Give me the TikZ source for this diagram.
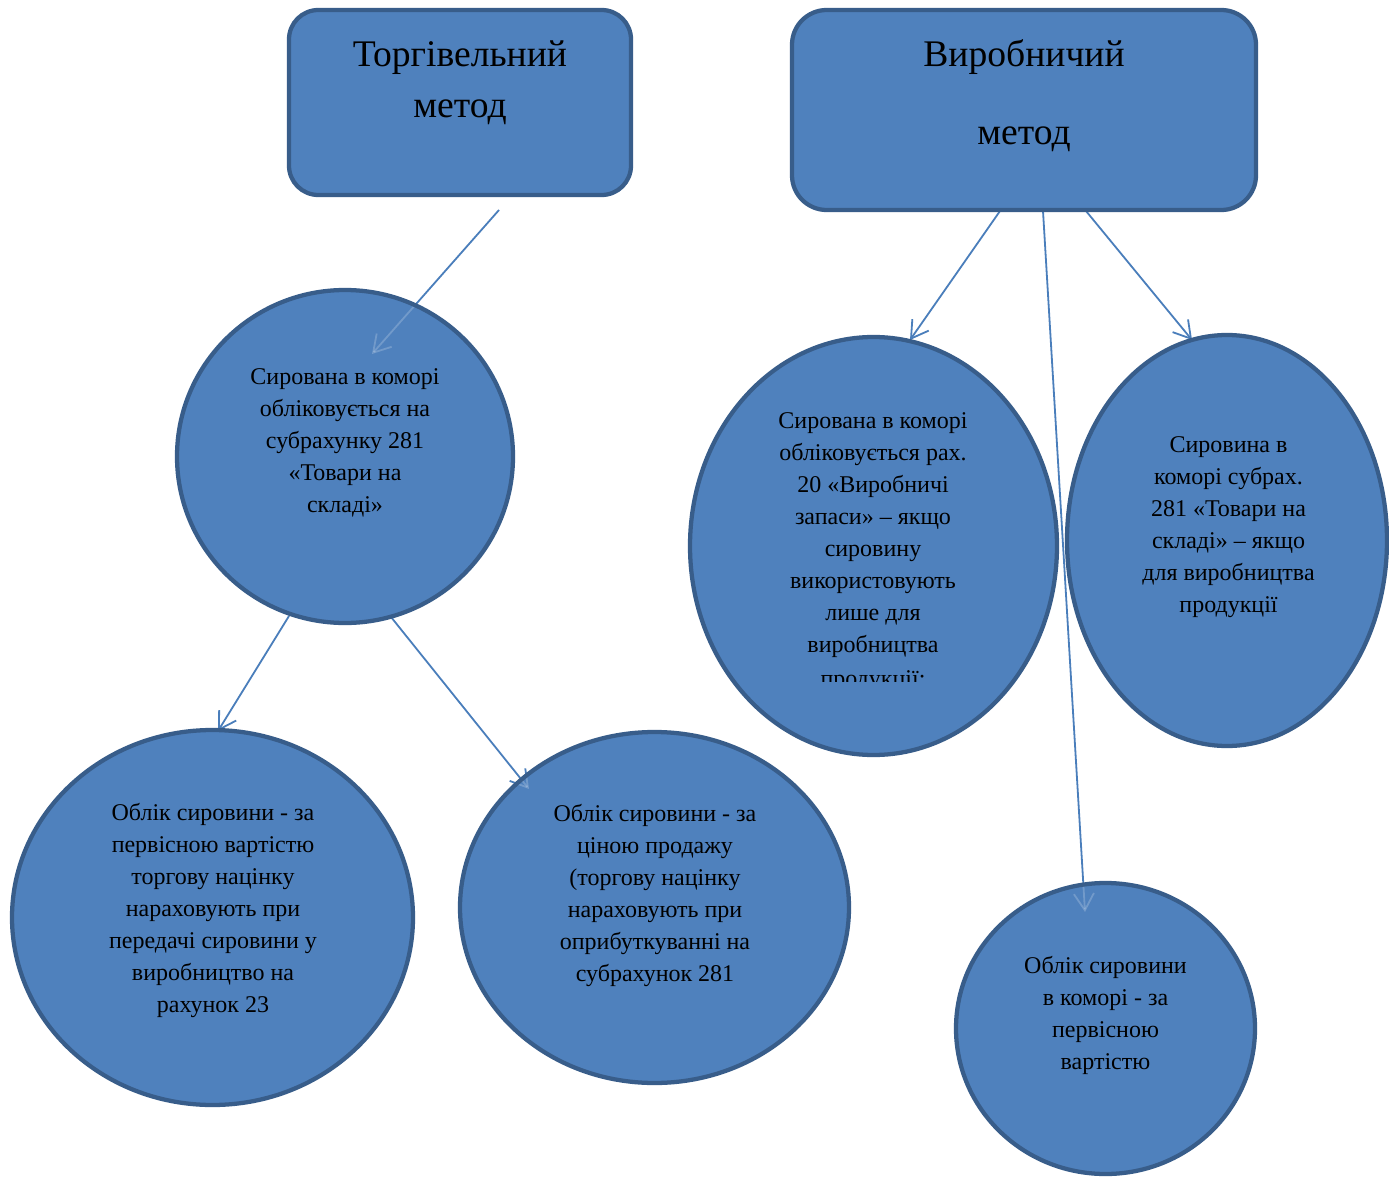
\documentclass[tikz,border=0pt]{standalone}
\usepackage{fontspec}
\setmainfont{Liberation Serif}
\usetikzlibrary{arrows.meta,shapes.geometric}
\pgfdeclarelayer{bg}
\pgfdeclarelayer{fg}
\pgfsetlayers{bg,main,fg}
\definecolor{fillblue}{HTML}{4F81BD}
\definecolor{edgeblue}{HTML}{385D8A}
\definecolor{linkblue}{HTML}{4A7EBB}
\newcommand\mylinks[1]{%
  \draw[#1] (s1) -- (h1);
  \draw[#1] (s2) -- (h2);
  \draw[#1] (s3) -- (h3);
  \draw[#1] (s4) -- (h4);
  \draw[#1] (s5) -- (h5);
  \draw[#1] (s6) -- (h6);
}
\begin{document}
\begin{tikzpicture}[x=0.75pt,y=-0.75pt,
  methodbox/.style={rectangle, fill=fillblue, draw=edgeblue, line width=3.2pt, inner sep=0pt},
  ellfill/.style={ellipse, fill=fillblue, inner sep=0pt, outer sep=0pt},
  ellborder/.style={draw=edgeblue, line width=3.2pt},
  link/.style={draw=linkblue, line width=1.35pt, -{Straight Barb[length=12.5pt,width=15pt]}},
  faintlink/.style={draw=white, draw opacity=0.2, line width=1.35pt, -{Straight Barb[length=12.5pt,width=15pt]}},
  ltxt/.style={font=\fontsize{18pt}{24pt}\selectfont, align=center, inner sep=0pt, text=black},
  btxtA/.style={font=\fontsize{28.2pt}{38.25pt}\selectfont, align=center, inner sep=0pt, text=black},
  btxtB/.style={font=\fontsize{28.2pt}{58.5pt}\selectfont, align=center, inner sep=0pt, text=black}
]
\useasboundingbox (0,0) rectangle (1389,1177);
\begin{pgfonlayer}{bg}
  \fill[white] (0,0) rectangle (1389,1177);
\end{pgfonlayer}

% method boxes
\node[methodbox, minimum width=256.5pt, minimum height=138.75pt, rounded corners=22pt] (b1) at (460,102.5) {};
\node[methodbox, minimum width=348pt, minimum height=150pt, rounded corners=26pt] (b2) at (1024,110) {};

% ellipse fills
\node[ellfill, minimum width=252pt, minimum height=249.75pt] (e1) at (345,456.5) {};
\node[ellfill, minimum width=300.75pt, minimum height=281.25pt] (e2) at (212.5,917.5) {};
\node[ellfill, minimum width=291.75pt, minimum height=263.25pt] (e3) at (654.5,907.5) {};
\node[ellfill, minimum width=275.25pt, minimum height=313.5pt] (e4) at (873.5,546) {};
\node[ellfill, minimum width=240pt, minimum height=308.25pt] (e5) at (1227,540.5) {};
\node[ellfill, minimum width=224.25pt, minimum height=218.25pt] (e6) at (1105.5,1028.5) {};

% connector ends
\coordinate (s1) at (499,210);  \coordinate (h1) at (372,354);
\coordinate (s2) at (289,616);  \coordinate (h2) at (218,731);
\coordinate (s3) at (391,617);  \coordinate (h3) at (529,789);
\coordinate (s4) at (1000,211); \coordinate (h4) at (910,340);
\coordinate (s5) at (1043,211); \coordinate (h5) at (1085,912);
\coordinate (s6) at (1086,211); \coordinate (h6) at (1192,340);

\begin{pgfonlayer}{bg}
  \mylinks{link}
\end{pgfonlayer}

\begin{scope}
  \clip (e1.center) ellipse [x radius=126pt, y radius=124.875pt]
        (e2.center) ellipse [x radius=150.375pt, y radius=140.625pt]
        (e3.center) ellipse [x radius=145.875pt, y radius=131.625pt]
        (e4.center) ellipse [x radius=137.625pt, y radius=156.75pt]
        (e5.center) ellipse [x radius=120pt, y radius=154.125pt]
        (e6.center) ellipse [x radius=112.125pt, y radius=109.125pt];
  \mylinks{faintlink}
\end{scope}

\begin{pgfonlayer}{fg}
  \draw[ellborder] (e1.center) ellipse [x radius=126pt, y radius=124.875pt];
  \draw[ellborder] (e2.center) ellipse [x radius=150.375pt, y radius=140.625pt];
  \draw[ellborder] (e3.center) ellipse [x radius=145.875pt, y radius=131.625pt];
  \draw[ellborder] (e4.center) ellipse [x radius=137.625pt, y radius=156.75pt];
  \draw[ellborder] (e5.center) ellipse [x radius=120pt, y radius=154.125pt];
  \draw[ellborder] (e6.center) ellipse [x radius=112.125pt, y radius=109.125pt];

  \node[btxtA] (tb1) at (460,82.5) {Торгівельний\\метод};
  \node[btxtB] (tb2) at (1024,96) {Виробничий\\метод};

  \node[ltxt] (t1) at (345,443) {Сирована в коморі\\обліковується на\\субрахунку 281\\«Товари на\\складі»};
  \node[ltxt] (t2) at (213,910.5) {Облік сировини - за\\первісною вартістю\\торгову націнку\\нараховують при\\передачі сировини у\\виробництво на\\рахунок 23};
  \node[ltxt] (t3) at (655,895) {Облік сировини - за\\ціною продажу\\(торгову націнку\\нараховують при\\оприбуткуванні на\\субрахунок 281};
  \node[ltxt] (t4) at (873,535) {Сирована в коморі\\обліковується рах.\\20 «Виробничі\\запаси» – якщо\\сировину\\використовують\\лише для\\виробництва};
  \begin{scope}
    \clip (690,600) rectangle (1057,681);
    \node[ltxt, anchor=base] (t4b) at (873,686) {продукції;};
  \end{scope}
  \node[ltxt] (t5) at (1228.5,527.5) {Сировина в\\коморі субрах.\\281 «Товари на\\складі» – якщо\\для виробництва\\продукції};
  \node[ltxt] (t6) at (1105.5,1015) {Облік сировини\\в коморі - за\\первісною\\вартістю};
\end{pgfonlayer}
\end{tikzpicture}
\end{document}
